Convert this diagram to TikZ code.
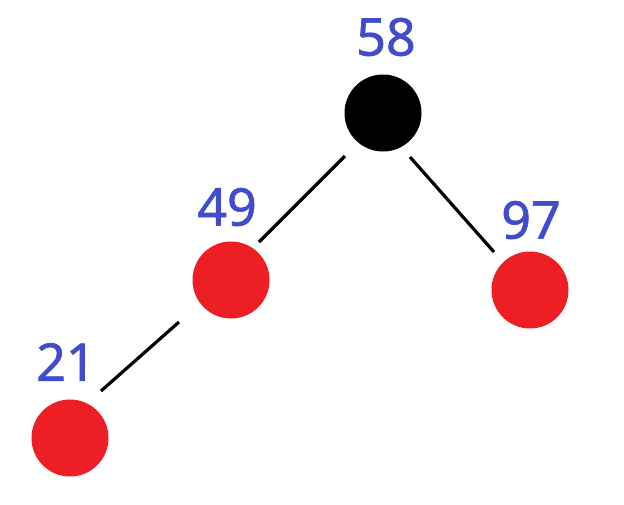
\documentclass[tikz,border=0pt]{standalone}
\usepackage{fontspec}
\setmainfont{Noto Sans}[FakeBold=1.2]
\usetikzlibrary{calc}
\definecolor{lblblue}{RGB}{64,76,204}
\definecolor{nodered}{RGB}{237,30,36}
\tikzset{
  rbnode/.style={circle, minimum size=77pt, inner sep=0pt, draw=none},
  rednode/.style={rbnode, fill=nodered},
  blacknode/.style={rbnode, fill=black},
  lbl/.style={inner sep=0pt, text=lblblue, font=\fontsize{52}{52}\selectfont\bfseries},
  edge/.style={line width=3.2pt, black}
}
\begin{document}
\begin{tikzpicture}[x=1pt,y=-1pt]
\useasboundingbox (0,0) rectangle (624,504);
\node[blacknode] (n58) at (383,113) {};
\node[rednode] (n49) at (231,280) {};
\node[rednode] (n97) at (530,290) {};
\node[rednode] (n21) at (70,438) {};
\node[lbl] (l58) at (386,37) {58};
\node[lbl] (l49) at (227,207) {49};
\node[lbl] (l97) at (531,220) {97};
\node[lbl] (l21) at (66,362) {21};
\draw[edge] ($(n58)+(-38,43)$) -- ($(n49)+(28,-38)$);
\draw[edge] ($(n58)+(27,44)$) -- ($(n97)+(-36,-38)$);
\draw[edge] ($(n49)+(-52,42)$) -- ($(n21)+(31,-47)$);
\end{tikzpicture}
\end{document}
